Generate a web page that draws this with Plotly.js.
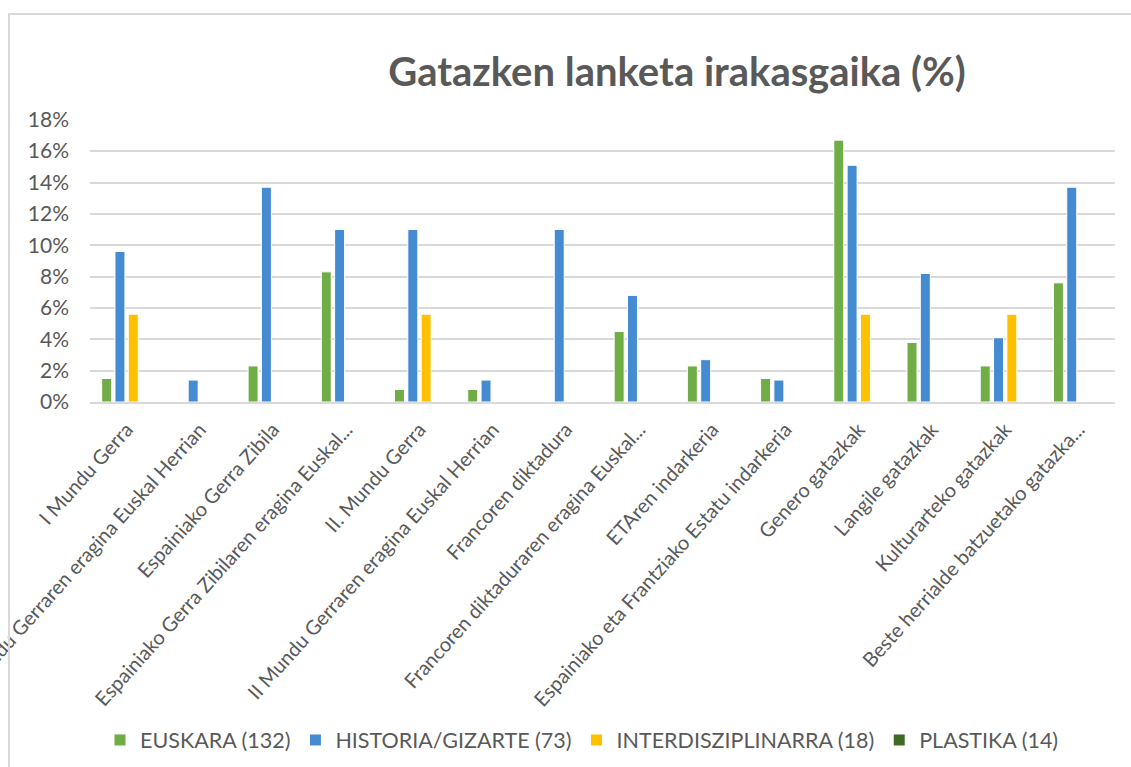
<!DOCTYPE html>
<html>
<head>
<meta charset="utf-8">
<script src="https://cdn.plot.ly/plotly-3.0.1.min.js"></script>
<style>
  html, body { margin: 0; padding: 0; background: #ffffff; overflow: hidden; }
  #wrap { position: relative; width: 1131px; height: 767px; }
  #chart { position: absolute; left: 0; top: 0; width: 1131px; height: 767px; }
  #frame { position: absolute; left: 8px; top: 13px; width: 1200px; height: 900px;
           border-left: 2px solid #d9d9d9; border-top: 2px solid #d9d9d9; pointer-events: none; }
</style>
</head>
<body>
<div id="wrap">
  <div id="chart"></div>
  <div id="frame"></div>
</div>
<script>
const categories = [
  "I Mundu Gerra",
  "I Mundu Gerraren eragina Euskal Herrian",
  "Espainiako Gerra Zibila",
  "Espainiako Gerra Zibilaren eragina Euskal...",
  "II. Mundu Gerra",
  "II Mundu Gerraren eragina Euskal Herrian",
  "Francoren diktadura",
  "Francoren diktaduraren eragina Euskal...",
  "ETAren indarkeria",
  "Espainiako eta Frantziako Estatu indarkeria",
  "Genero gatazkak",
  "Langile gatazkak",
  "Kulturarteko gatazkak",
  "Beste herrialde batzuetako gatazka..."
];

const seriesNames = ["EUSKARA (132)", "HISTORIA/GIZARTE (73)", "INTERDISZIPLINARRA (18)", "PLASTIKA (14)"];

const euskara    = [1.5, 0, 2.3, 8.3, 0.8, 0.8, 0, 4.5, 2.3, 1.5, 16.7, 3.8, 2.3, 7.6];
const historia   = [9.6, 1.4, 13.7, 11.0, 11.0, 1.4, 11.0, 6.8, 2.7, 1.4, 15.1, 8.2, 4.1, 13.7];
const interdisz  = [5.6, 0, 0, 0, 5.6, 0, 0, 0, 0, 0, 5.6, 0, 5.6, 0];
const plastika   = [0, 0, 0, 0, 0, 0, 0, 0, 0, 0, 0, 0, 0, 0];

const yTickVals  = [0, 2, 4, 6, 8, 10, 12, 14, 16, 18];
const yTickText  = ["0%", "2%", "4%", "6%", "8%", "10%", "12%", "14%", "16%", "18%"];

const colors = ["#70AD47", "#448BD1", "#FFC000", "#3E6A24"];
const values = [euskara, historia, interdisz, plastika];

const traces = values.map((v, i) => ({
  type: "bar",
  name: seriesNames[i],
  x: categories,
  y: v,
  marker: { color: colors[i], line: { color: "#ffffff", width: 1 } },
  hoverinfo: "x+y+name"
}));

const grey = "#595959";
const font = "Lato, 'Open Sans', sans-serif";

const layout = {
  width: 1131,
  height: 767,
  paper_bgcolor: "#ffffff",
  plot_bgcolor: "#ffffff",
  margin: { l: 90, r: 16, t: 119, b: 365 },
  barmode: "group",
  bargap: 0.273,
  bargroupgap: 0.25,
  title: {
    text: "<b>Gatazken lanketa irakasgaika (%)</b>",
    font: { family: font, size: 40, color: grey },
    x: 677 / 1131, xref: "container", xanchor: "center",
    y: 1 - 72 / 767, yref: "container", yanchor: "middle"
  },
  xaxis: {
    type: "category",
    tickangle: -48,
    tickfont: { family: font, size: 20, color: grey },
    ticklabelstandoff: 6,
    showgrid: false,
    showline: true,
    linecolor: "#d9d9d9",
    linewidth: 2,
    ticks: "",
    automargin: false
  },
  yaxis: {
    range: [0, 18.05],
    tickvals: yTickVals,
    ticktext: yTickText,
    tickfont: { family: font, size: 21, color: grey },
    showgrid: true,
    gridcolor: "#d9d9d9",
    gridwidth: 2,
    zeroline: false,
    showline: false,
    ticks: "",
    ticklabelstandoff: 20,
    automargin: false
  },
  showlegend: true,
  legend: {
    orientation: "h",
    x: 582 / 1131, xref: "container", xanchor: "center",
    y: 1 - 740 / 767, yref: "container", yanchor: "middle",
    font: { family: font, size: 21.5, color: grey },
    itemwidth: 30,
    traceorder: "normal"
  }
};

Plotly.newPlot("chart", traces, layout, { displayModeBar: false, responsive: false });
</script>
</body>
</html>
